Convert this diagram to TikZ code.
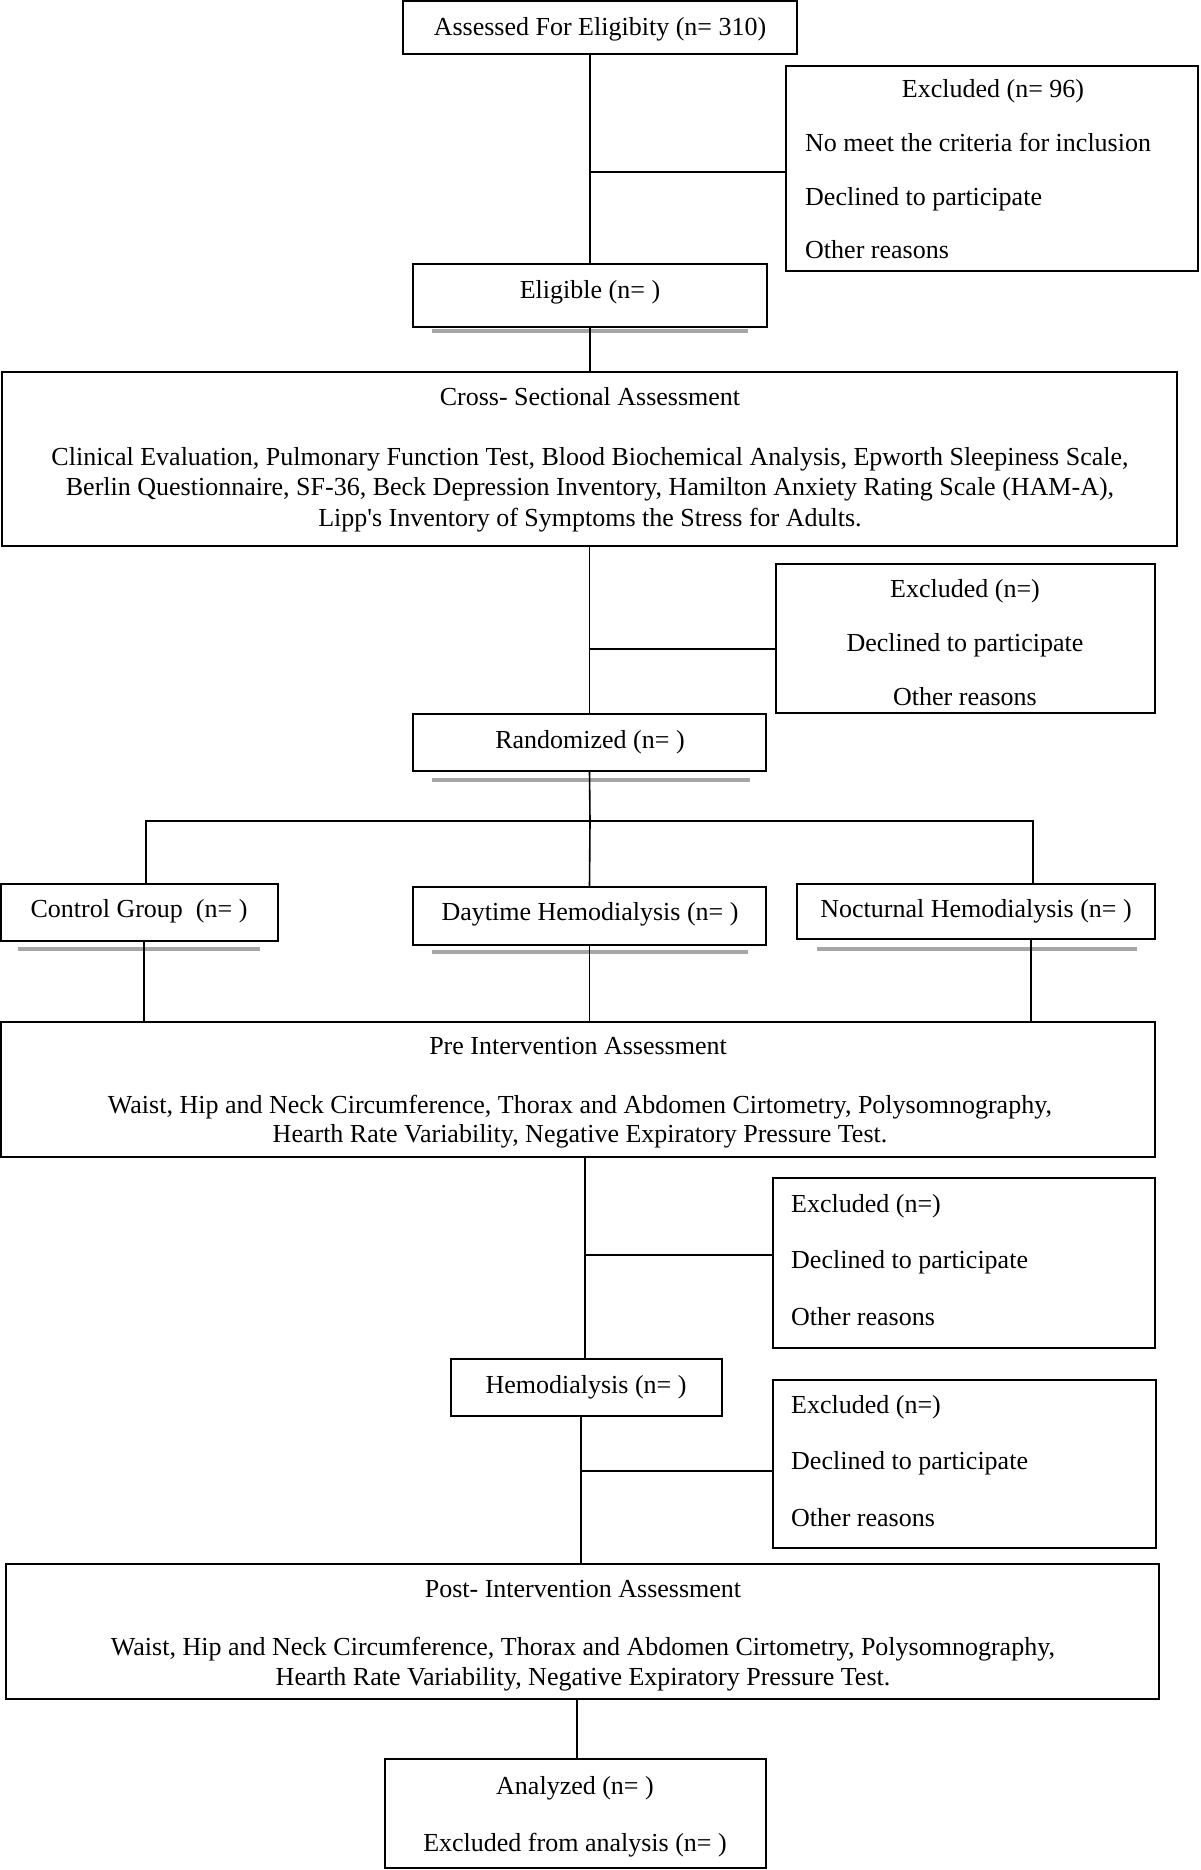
\documentclass[tikz,border=0pt]{standalone}
\usepackage{fontspec}
\setmainfont{Liberation Serif}
\begin{document}
\begin{tikzpicture}[x=1pt,y=-1pt,
  every node/.style={font=\fontsize{26}{30}\selectfont},
  box/.style={draw, line width=2.2pt, inner sep=0pt, outer sep=0pt, anchor=north west},
  lbl/.style={inner sep=0pt, anchor=center, text height=17pt, text depth=0pt},
  lbll/.style={lbl, anchor=west},
  conn/.style={line width=1.6pt},
  shade/.style={line width=3.2pt, color=black!35}]
\useasboundingbox (0,0) rectangle (1200,1870);
% boxes
\node[box, minimum width=394pt, minimum height=53pt, text height=17pt, text depth=0pt] (assess) at (403,1) {Assessed For Eligibity (n= 310)};
\node[box, minimum width=412pt, minimum height=205pt] (ex1) at (786,66) {};
\node[box, minimum width=354pt, minimum height=63pt] (elig) at (413,264) {};
\node[box, minimum width=1175pt, minimum height=174pt] (cross) at (2,372) {};
\node[box, minimum width=379pt, minimum height=149pt] (ex2) at (776,564) {};
\node[box, minimum width=353pt, minimum height=57pt] (rand) at (413,714) {};
\node[box, minimum width=277pt, minimum height=57pt] (ctrl) at (1,884) {};
\node[box, minimum width=353pt, minimum height=58pt] (day) at (413,887) {};
\node[box, minimum width=358pt, minimum height=55pt] (noct) at (797,884) {};
\node[box, minimum width=1154pt, minimum height=135pt] (pre) at (1,1022) {};
\node[box, minimum width=382pt, minimum height=170pt] (ex3) at (773,1178) {};
\node[box, minimum width=271pt, minimum height=57pt] (hemo) at (451,1359) {};
\node[box, minimum width=383pt, minimum height=168pt] (ex4) at (773,1380) {};
\node[box, minimum width=1153pt, minimum height=135pt] (post) at (6,1564) {};
\node[box, minimum width=381pt, minimum height=109pt] (anal) at (385,1759) {};
% labels
\node[lbl] (t-elig) at (590,290) {Eligible (n= )};
\node[lbl] (t-rand) at (590,740) {Randomized (n= )};
\node[lbl] (t-ctrl) at (139,909) {Control Group\ \ (n= )};
\node[lbl] (t-day) at (590,912) {Daytime Hemodialysis (n= )};
\node[lbl] (t-noct) at (976,909) {Nocturnal Hemodialysis (n= )};
\node[lbl] (t-hemo) at (586,1385) {Hemodialysis (n= )};

\node[lbl] (ex1a) at (993,89) {Excluded (n= 96)};
\node[lbll] (ex1b) at (805,143) {No meet the criteria for inclusion};
\node[lbll] (ex1c) at (805,197) {Declined to participate};
\node[lbll] (ex1d) at (805,250) {Other reasons};

\node[lbl] (crA) at (590,397) {Cross- Sectional Assessment};
\node[lbl] (crB) at (590,457) {Clinical Evaluation, Pulmonary Function Test, Blood Biochemical Analysis, Epworth Sleepiness Scale,};
\node[lbl] (crC) at (590,487) {Berlin Questionnaire, SF-36, Beck Depression Inventory, Hamilton Anxiety Rating Scale (HAM-A),};
\node[lbl] (crD) at (590,518) {Lipp\textquotesingle s Inventory of Symptoms the Stress for Adults.};

\node[lbl] (ex2a) at (965,589) {Excluded (n=)};
\node[lbl] (ex2b) at (965,643) {Declined to participate};
\node[lbl] (ex2c) at (965,697) {Other reasons};

\node[lbl] (prA) at (578,1046) {Pre Intervention Assessment};
\node[lbl] (prB) at (580,1105) {Waist, Hip and Neck Circumference, Thorax and Abdomen Cirtometry, Polysomnography,};
\node[lbl] (prC) at (580,1134) {Hearth Rate Variability, Negative Expiratory Pressure Test.};

\node[lbll] (ex3a) at (791,1204) {Excluded (n=)};
\node[lbll] (ex3b) at (791,1260) {Declined to participate};
\node[lbll] (ex3c) at (791,1317) {Other reasons};

\node[lbll] (ex4a) at (791,1405) {Excluded (n=)};
\node[lbll] (ex4b) at (791,1461) {Declined to participate};
\node[lbll] (ex4c) at (791,1518) {Other reasons};

\node[lbl] (poA) at (583,1589) {Post- Intervention Assessment};
\node[lbl] (poB) at (583,1647) {Waist, Hip and Neck Circumference, Thorax and Abdomen Cirtometry, Polysomnography,};
\node[lbl] (poC) at (583,1677) {Hearth Rate Variability, Negative Expiratory Pressure Test.};

\node[lbl] (anA) at (575,1786) {Analyzed (n= )};
\node[lbl] (anB) at (575,1843) {Excluded from analysis (n= )};

% gray underlines
\draw[shade] (432,331) -- (748,331);
\draw[shade] (432,780) -- (750,780);
\draw[shade] (18,949) -- (260,949);
\draw[shade] (432,952) -- (748,952);
\draw[shade] (817,949) -- (1137,949);

% junction coordinates
\coordinate (j1) at (590,172);
\coordinate (j2) at (590,649);
\coordinate (jb) at (590,821);
\coordinate (jc) at (146,821);
\coordinate (jn) at (1033,821);
\coordinate (jc2) at (144,941);
\coordinate (jn2) at (1031,939);
\coordinate (j3) at (585,1255);
\coordinate (j4) at (581,1471);
\coordinate (j5) at (577,1699);

% connectors
\draw[conn] (assess.south -| elig.north) -- (elig.north);
\draw[conn] (j1) -- (j1 -| ex1.west);
\draw[conn] (elig.south) -- (cross.north -| elig.south);
\draw[conn] (cross.south -| rand.north) -- (rand.north);
\draw[conn] (j2) -- (j2 -| ex2.west);
\draw[conn] (rand.south) -- (jb);
\draw[conn] (jc |- ctrl.north) -- (jc) -- (jn) -- (jn |- noct.north);
\draw[conn] (jb) -- (day.north);
\draw[conn] (jc2) -- (jc2 |- pre.north);
\draw[conn] (day.south) -- (pre.north -| day.south);
\draw[conn] (jn2) -- (jn2 |- pre.north);
\draw[conn] (j3 |- pre.south) -- (j3 |- hemo.north);
\draw[conn] (j3) -- (j3 -| ex3.west);
\draw[conn] (j4 |- hemo.south) -- (j4 |- post.north);
\draw[conn] (j4) -- (j4 -| ex4.west);
\draw[conn] (j5) -- (j5 |- anal.north);
\end{tikzpicture}
\end{document}
